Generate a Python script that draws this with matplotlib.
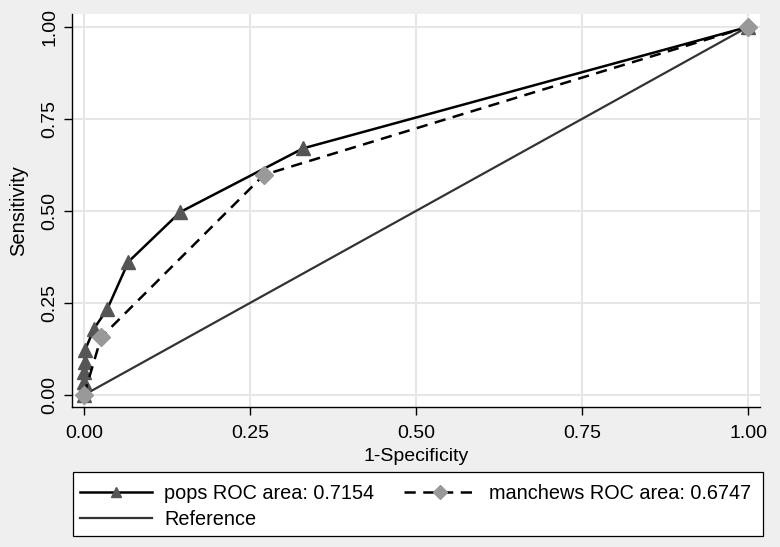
import matplotlib
matplotlib.use("Agg")
import matplotlib.pyplot as plt
from matplotlib.patches import Rectangle

plt.rcParams['font.family'] = ['Liberation Sans', 'DejaVu Sans']

pops_fpr = [0.0, 0.0, 0.0, 0.0, 0.001, 0.002, 0.015, 0.035, 0.067, 0.145, 0.330, 1.0]
pops_tpr = [0.0, 0.02, 0.036, 0.063, 0.09, 0.123, 0.18, 0.233, 0.362, 0.497, 0.670, 1.0]
man_fpr = [0.0, 0.026, 0.271, 1.0]
man_tpr = [0.0, 0.157, 0.598, 1.0]
ref_x = [0.0, 1.0]
ref_y = [0.0, 1.0]
ticks = [0.0, 0.25, 0.5, 0.75, 1.0]
tick_labels = ["0.00", "0.25", "0.50", "0.75", "1.00"]
labels = ["pops ROC area: 0.7154", "manchews ROC area: 0.6747", "Reference"]

W, H = 780, 547
fig = plt.figure(figsize=(7.8, 5.47), dpi=100, facecolor='#efefef')
ax = fig.add_axes([72 / W, (H - 407) / H, 688 / W, 393 / H])
ax.set_facecolor('white')

l1, = ax.plot(pops_fpr, pops_tpr, color='black', lw=1.8, marker='^', ms=9.5,
              mfc='#555555', mec='#555555', label=labels[0], zorder=3)
l2, = ax.plot(man_fpr, man_tpr, color='black', lw=1.8, ls=(0, (4.5, 3)), marker='D', ms=9,
              mfc='#999999', mec='#999999', label=labels[1], zorder=4)
l3, = ax.plot(ref_x, ref_y, color='#333333', lw=1.6, label=labels[2], zorder=2)

ax.set_xlim(-0.018, 1.018)
ax.set_ylim(-0.0326, 1.035)
ax.set_xticks(ticks)
ax.set_xticklabels(tick_labels, fontsize=14)
ax.set_yticks(ticks)
ax.set_yticklabels(tick_labels, fontsize=14, rotation=90, va='center')
ax.tick_params(direction='out', length=6, width=1, color='black')
ax.tick_params(axis='x', pad=7)
ax.tick_params(axis='y', pad=4)
ax.grid(True, color='#e6e6e6', lw=1.5)
ax.set_axisbelow(True)
for s in ['top', 'right']:
    ax.spines[s].set_visible(False)
for s in ['left', 'bottom']:
    ax.spines[s].set_color('black')
    ax.spines[s].set_linewidth(1.0)

ax.set_xlabel("1-Specificity", fontsize=14, labelpad=4)
ax.set_ylabel("Sensitivity", fontsize=14.5, labelpad=9)

# legend frame
fig.patches.append(Rectangle((73 / W, (H - 536) / H), 690 / W, 64 / H,
                             transform=fig.transFigure, facecolor='white',
                             edgecolor='black', lw=0.9, zorder=0))

leg = fig.legend(handles=[l1, l3, l2], labels=[labels[0], labels[2], labels[1]], ncol=2,
                 loc='upper left', bbox_to_anchor=(80 / W, (H - 484) / H),
                 fontsize=14.3, frameon=False, markerscale=0.75,
                 handlelength=3.6, borderaxespad=0, borderpad=0, columnspacing=1.5,
                 labelspacing=0.35, handletextpad=0.65)

fig.savefig("out.png", dpi=100, facecolor=fig.get_facecolor())
